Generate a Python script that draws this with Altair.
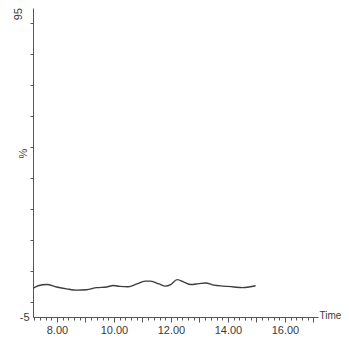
import altair as alt
import pandas as pd

# Trace values
time = [7.17, 7.34, 7.64, 7.99, 8.34, 8.69, 9.04, 9.39, 9.74, 9.98, 10.21, 10.5,
        10.8, 11.09, 11.29, 11.58, 11.81, 11.99, 12.22, 12.46, 12.69, 12.98, 13.22,
        13.51, 13.86, 14.21, 14.5, 14.74, 14.97]
pct = [4.3, 5.1, 5.5, 4.7, 4.1, 3.7, 3.8, 4.5, 4.7, 5.2, 4.9, 4.8,
       5.7, 6.6, 6.6, 5.7, 5.0, 5.5, 7.1, 6.3, 5.5, 5.8, 6.0,
       5.3, 5.0, 4.7, 4.5, 4.7, 5.1]

x_domain = [7.16, 17.16]
y_domain = [-5, 95]
x_tick_values = [round(7.2 + 0.2 * i, 1) for i in range(50)]
y_tick_values = [-5, 0, 10, 20, 30, 40, 50, 60, 70, 80, 90]
top_label = ["95"]
top_value = [95]

df = pd.DataFrame({"Time": time, "pct": pct})
top_df = pd.DataFrame({"Time": [x_domain[0]], "pct": top_value, "label": top_label})

FONT = "Liberation Sans"
INK = "#3a3a3a"
W, H = 285, 309

x_enc = alt.X(
    "Time:Q",
    scale=alt.Scale(domain=x_domain, nice=False, zero=False),
    axis=alt.Axis(
        values=x_tick_values,
        tickCount=200,
        format=".2f",
        labelExpr="abs(datum.value/2 - round(datum.value/2)) < 0.001 ? datum.label : ''",
        labelOverlap=False,
        labelFont=FONT,
        labelFontSize=11,
        labelColor=INK,
        labelPadding=2,
        tickSize={"expr": "abs(datum.value - round(datum.value)) < 0.001 ? 5 : 3"},
        tickColor="#555555",
        domainColor="#555555",
        grid=False,
        title="Time",
        titleFont=FONT,
        titleFontSize=10,
        titleFontWeight="normal",
        titleColor=INK,
        titleAlign="left",
        titleBaseline="middle",
        titleX=W + 1,
        titleY=-2,
        titleAngle=0,
    ),
)

y_enc = alt.Y(
    "pct:Q",
    scale=alt.Scale(domain=y_domain, nice=False, zero=False),
    axis=alt.Axis(
        values=y_tick_values,
        tickCount=200,
        labelExpr="datum.value == -5 ? '-5' : ''",
        labelOverlap=False,
        labelFont=FONT,
        labelFontSize=11,
        labelColor=INK,
        labelPadding=1,
        tickSize=3,
        tickOpacity={"expr": "datum.value == -5 ? 0 : 1"},
        tickColor="#555555",
        domainColor="#555555",
        grid=False,
        title="%",
        titleFont=FONT,
        titleFontSize=11,
        titleFontWeight="normal",
        titleColor=INK,
        titleAngle=-90,
        titleAlign="center",
        titleBaseline="middle",
        titleX=-10,
        titleY=145,
    ),
)

line = alt.Chart(df).mark_line(
    color="#3c3c3c", strokeWidth=1.4, interpolate="monotone"
).encode(x=x_enc, y=y_enc)

top_text = alt.Chart(top_df).mark_text(
    angle=270, align="right", baseline="bottom", dy=-9,
    font=FONT, fontSize=11, color=INK,
).encode(x="Time:Q", y="pct:Q", text="label:N")

chart = alt.layer(line, top_text).properties(
    width=W,
    height=H,
    autosize=alt.AutoSizeParams(type="none"),
    padding={"left": 25, "top": 0, "right": 23, "bottom": 20},
    background="white",
).configure_view(stroke=None)

chart.save("out.html", embed_options={"renderer": "svg", "actions": False})
